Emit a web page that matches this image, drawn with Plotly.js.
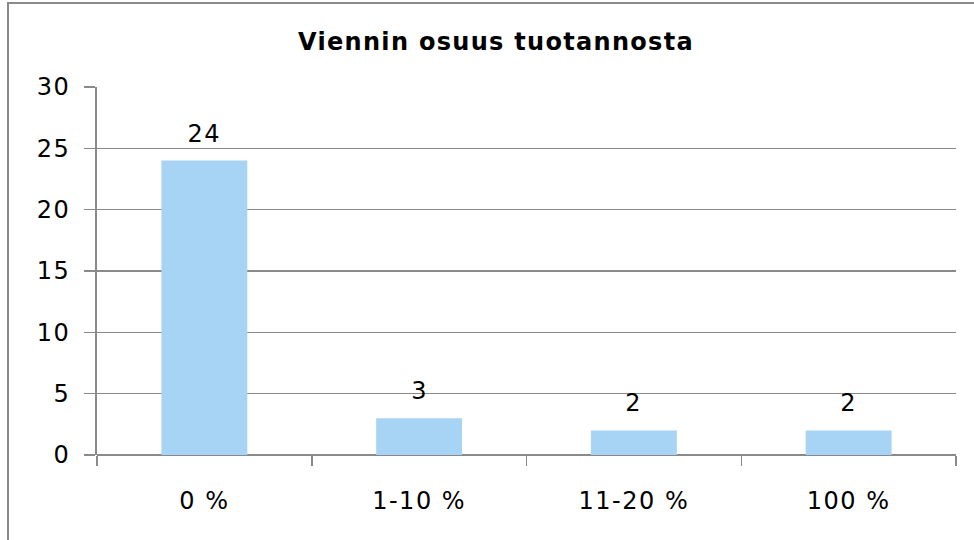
<!DOCTYPE html>
<html><head><meta charset="utf-8">
<script src="https://cdn.plot.ly/plotly-3.0.1.min.js"></script>
<style>html,body{margin:0;padding:0;background:#fff;}#chart{width:974px;height:540px;}
#chart .xtick text, #chart .ytick text, #chart .annotation-text{letter-spacing:1.5px;}
#chart .gtitle{letter-spacing:1.3px;}
</style>
</head><body><div id="chart"></div>
<script>
const categories = ["0 %", "1-10 %", "11-20 %", "100 %"];
const values = [24, 3, 2, 2];
const yTicks = [0, 5, 10, 15, 20, 25, 30];
const titleText = "Viennin osuus tuotannosta";

const font = "Verdana, 'DejaVu Sans', sans-serif";
const grid = "#8a8a8a";

const trace = {
  type: "bar", x: categories, y: values,
  marker: {color: "#a7d3f4"}, width: 0.4, hoverinfo: "none"
};

const annotations = categories.map((c, i) => ({
  x: c, y: values[i], xref: "x", yref: "y", text: String(values[i]),
  showarrow: false, yanchor: "bottom", yshift: 11,
  font: {family: font, size: 24, color: "#000"}
}));

const layout = {
  width: 974, height: 540,
  margin: {l: 97, r: 18, t: 87, b: 85},
  paper_bgcolor: "#fff", plot_bgcolor: "#fff",
  showlegend: false,
  title: {text: "<b>" + titleText + "</b>", x: 496/974, xanchor: "center", y: 1 - 42/540, yanchor: "middle",
          font: {family: font, size: 24, color: "#000"}},
  xaxis: {
    type: "category", tickson: "boundaries", ticks: "outside", ticklen: 10, tickwidth: 1.5, tickcolor: grid,
    showline: false, showgrid: false, zeroline: false,
    tickfont: {family: font, size: 24, color: "#000"}, ticklabelstandoff: 29
  },
  yaxis: {
    range: [0, 30], tickvals: yTicks, ticktext: yTicks.map(String),
    ticks: "outside", ticklen: 11, tickwidth: 1.5, tickcolor: grid,
    showline: true, linecolor: grid, linewidth: 2,
    showgrid: true, gridcolor: grid, gridwidth: 1.5,
    zeroline: true, zerolinecolor: grid, zerolinewidth: 2,
    tickfont: {family: font, size: 24, color: "#000"}, ticklabelstandoff: 9
  },
  annotations: annotations,
  shapes: [{
    type: "rect", xref: "paper", yref: "paper",
    x0: (8 - 97) / 859, x1: (990 - 97) / 859,
    y0: -0.5, y1: (455 - 3) / 368,
    line: {color: "#8a8a8a", width: 2}, fillcolor: "rgba(0,0,0,0)", layer: "below"
  }]
};

Plotly.newPlot("chart", [trace], layout, {staticPlot: true});
</script></body></html>
